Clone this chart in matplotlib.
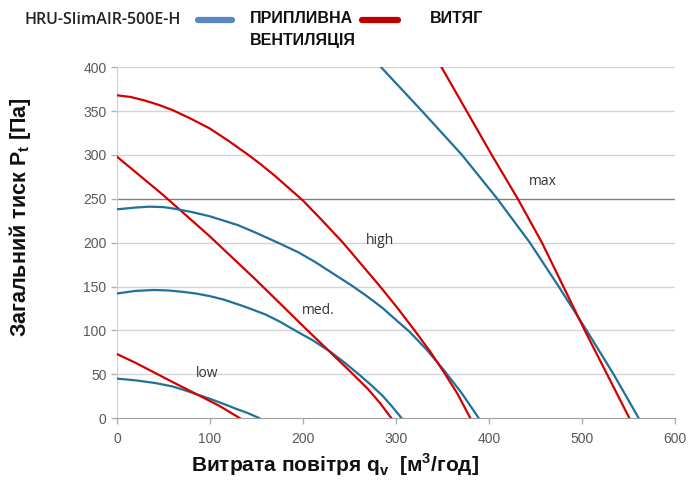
import matplotlib.pyplot as plt
from matplotlib.lines import Line2D

# Fan curves: airflow q [m3/h] vs pressure [Pa]
low_sup_q = [0, 20, 41, 60, 75, 86, 100, 110, 120, 127, 140, 153]
low_sup_p = [45, 43, 40, 36, 31, 27, 22, 18, 14, 11, 6, 0]
low_ext_q = [0, 20, 40, 60, 86, 110, 132]
low_ext_p = [73, 63, 52, 41, 27, 14, 0]

med_sup_q = [0, 20, 40, 55, 70, 85, 100, 115, 132, 145, 160, 175, 193, 210, 229, 245, 261, 274, 286, 296, 306]
med_sup_p = [142, 145, 146, 145.5, 144, 142, 139, 135, 129, 124, 118, 110, 99, 89, 76, 63, 49, 37, 25, 13, 0]
med_ext_q = [0, 50, 100, 150, 200, 250, 270, 283, 295]
med_ext_p = [298, 254, 207, 157, 105, 54, 33, 17, 0]

high_sup_q = [0, 20, 35, 50, 60, 80, 100, 115, 130, 150, 175, 195, 213, 235, 254, 270, 285,
              300, 315, 333, 352, 371, 389]
high_sup_p = [238, 240, 241, 240.5, 239, 235, 230, 225, 220, 211, 199, 189, 178, 163, 150, 138, 126,
              112, 98, 78, 54, 28, 0]
high_ext_q = [0, 15, 30, 45, 60, 80, 100, 120, 140, 155, 170, 185, 200, 220, 243, 263, 283,
              302, 320, 336, 350, 366, 380]
high_ext_p = [368, 366, 362, 357, 351, 341, 330, 316, 301, 289, 276, 262, 248, 226, 200, 175, 150,
              125, 100, 77, 55, 28, 0]

max_sup_q = [284, 328, 371, 409, 444, 475, 505, 534, 561]
max_sup_p = [400, 350, 300, 250, 200, 150, 100, 50, 0]
max_ext_q = [349, 376, 403, 431, 457, 480, 503, 527, 551]
max_ext_p = [400, 350, 300, 250, 200, 150, 100, 50, 0]

speed_labels = ["low", "med.", "high", "max"]
label_q = [97, 216, 283, 458]
label_p = [51, 123, 202, 270]

x_ticks = [0, 100, 200, 300, 400, 500, 600]
y_ticks = [0, 50, 100, 150, 200, 250, 300, 350, 400]

blue = "#21709a"
red = "#d40000"

plt.rcParams['font.family'] = ['Liberation Sans', 'DejaVu Sans']

fig = plt.figure(figsize=(6.88, 4.8), dpi=100)
ax = fig.add_axes([0.170, 0.129, 0.811, 0.731])

# gridlines, the 250 Pa one is darker
for y in y_ticks[1:]:
    ax.axhline(y, color="#808080" if y == 250 else "#d4d4d4", lw=1.0, zorder=0)

curves = [
    (low_sup_q, low_sup_p, low_ext_q, low_ext_p),
    (med_sup_q, med_sup_p, med_ext_q, med_ext_p),
    (high_sup_q, high_sup_p, high_ext_q, high_ext_p),
    (max_sup_q, max_sup_p, max_ext_q, max_ext_p),
]
for sq, sp, eq, ep in curves:
    ax.plot(sq, sp, color=blue, lw=1.6, zorder=3, solid_joinstyle="round")
    ax.plot(eq, ep, color=red, lw=1.6, zorder=3, solid_joinstyle="round")

for name, q, p in zip(speed_labels, label_q, label_p):
    ax.text(q, p, name, fontsize=10, color="#333333", ha="center", va="center",
            family=["Open Sans", "DejaVu Sans"])

ax.set_xlim(0, 600)
ax.set_ylim(0, 400)
ax.set_xticks(x_ticks)
ax.set_yticks(y_ticks)
ax.tick_params(axis="both", colors="#b0b0b0", labelcolor="#595959", labelsize=10,
               length=4, width=1, direction="out")
ax.tick_params(axis="x", pad=6)
for s in ["top", "right"]:
    ax.spines[s].set_visible(False)
ax.spines["left"].set_color("#d0d0d0")
ax.spines["bottom"].set_color("#a0a0a0")

ax.set_xlabel(r"Витрата повітря q$_\mathregular{v}$  [м$^\mathregular{3}$/год]",
              fontsize=15, fontweight="bold", color="#111111")
ax.xaxis.set_label_coords(0.39, -0.095)
ax.set_ylabel(r"Загальний тиск P$_\mathregular{t}$ [Па]",
              fontsize=15.5, fontweight="bold", color="#111111")
ax.yaxis.set_label_coords(-0.15, 0.573)

# header / legend
fig.text(0.036, 0.958, "HRU-SlimAIR-500E-H", fontsize=11.5, fontweight="semibold",
         color="#222222", va="center", family=["Open Sans", "DejaVu Sans"])
fig.add_artist(Line2D([198 / 688, 232 / 688], [0.958, 0.958], color="#5a86c2",
                      lw=4.5, solid_capstyle="round"))
fig.text(250 / 688, 0.962, "ПРИПЛИВНА", fontsize=11.5, fontweight="bold",
         color="#111111", va="center")
fig.text(250 / 688, 0.915, "ВЕНТИЛЯЦІЯ", fontsize=11.5, fontweight="bold",
         color="#111111", va="center")
fig.add_artist(Line2D([362 / 688, 398 / 688], [0.958, 0.958], color="#c00000",
                      lw=4.5, solid_capstyle="round"))
fig.text(430 / 688, 0.962, "ВИТЯГ", fontsize=11.5, fontweight="bold",
         color="#111111", va="center")

fig.savefig("out.png", dpi=100)
